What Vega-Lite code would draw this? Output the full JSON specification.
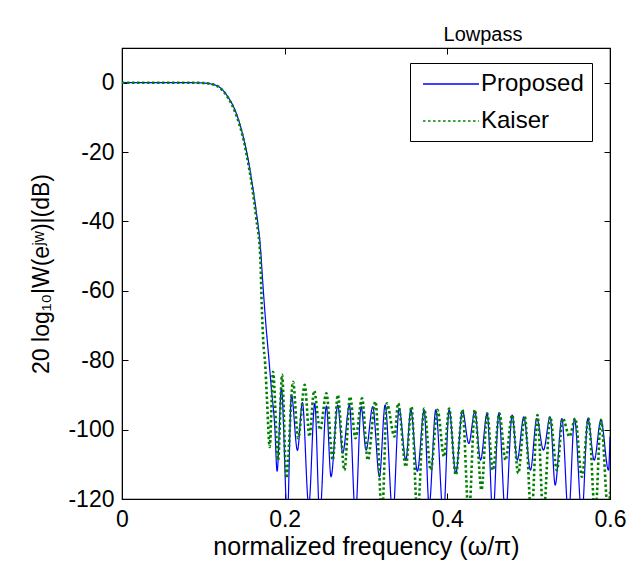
{
  "$schema": "https://vega.github.io/schema/vega-lite/v6.json",
  "width": 488,
  "height": 451,
  "autosize": {"type": "none"},
  "padding": {"left": 122, "top": 48, "right": 28, "bottom": 68},
  "background": "white",
  "title": {"text": "Lowpass", "fontSize": 20, "font": "Liberation Sans", "fontWeight": "normal", "color": "black", "offset": 3, "dx": 117},
  "config": {
    "view": {"stroke": "black", "strokeWidth": 1.2},
    "axis": {"labelFont": "Liberation Sans", "titleFont": "Liberation Sans", "labelFontSize": 23, "titleFontSize": 23, "titleFontWeight": "normal", "labelColor": "black", "titleColor": "black", "domainColor": "black", "tickColor": "black", "grid": false, "tickSize": -6, "labelPadding": 14, "labelFlush": false}
  },
  "datasets": {
    "resp": [
      {"f": 0, "db": 0, "s": "Proposed"}, {"f": 0.02, "db": 0, "s": "Proposed"}, {"f": 0.04, "db": 0, "s": "Proposed"}, {"f": 0.06, "db": 0, "s": "Proposed"}, {"f": 0.08, "db": 0, "s": "Proposed"}, {"f": 0.1, "db": -0.1, "s": "Proposed"},
      {"f": 0.11, "db": -0.4, "s": "Proposed"}, {"f": 0.12, "db": -1.3, "s": "Proposed"}, {"f": 0.13, "db": -4, "s": "Proposed"}, {"f": 0.14, "db": -8.5, "s": "Proposed"}, {"f": 0.145, "db": -12, "s": "Proposed"}, {"f": 0.15, "db": -16.5, "s": "Proposed"},
      {"f": 0.155, "db": -22, "s": "Proposed"}, {"f": 0.16, "db": -29, "s": "Proposed"}, {"f": 0.165, "db": -37, "s": "Proposed"}, {"f": 0.17, "db": -47, "s": "Proposed"}, {"f": 0.1738, "db": -60, "s": "Proposed"}, {"f": 0.177, "db": -70, "s": "Proposed"},
      {"f": 0.18, "db": -78, "s": "Proposed"}, {"f": 0.1836, "db": -88, "s": "Proposed"}, {"f": 0.1878, "db": -99, "s": "Proposed"}, {"f": 0.1907, "db": -112, "s": "Proposed"}, {"f": 0.196, "db": -88, "s": "Proposed"}, {"f": 0.2033, "db": -125, "s": "Proposed"},
      {"f": 0.2083, "db": -90, "s": "Proposed"}, {"f": 0.2157, "db": -106, "s": "Proposed"}, {"f": 0.2218, "db": -92.2, "s": "Proposed"}, {"f": 0.2296, "db": -122, "s": "Proposed"}, {"f": 0.237, "db": -92.4, "s": "Proposed"}, {"f": 0.2431, "db": -125, "s": "Proposed"},
      {"f": 0.2513, "db": -93.2, "s": "Proposed"}, {"f": 0.257, "db": -113.6, "s": "Proposed"}, {"f": 0.2653, "db": -92.9, "s": "Proposed"}, {"f": 0.2714, "db": -106.8, "s": "Proposed"}, {"f": 0.2796, "db": -92.9, "s": "Proposed"}, {"f": 0.287, "db": -125, "s": "Proposed"},
      {"f": 0.294, "db": -93.4, "s": "Proposed"}, {"f": 0.3001, "db": -105.9, "s": "Proposed"}, {"f": 0.3083, "db": -93.4, "s": "Proposed"}, {"f": 0.3165, "db": -113.6, "s": "Proposed"}, {"f": 0.3235, "db": -92.9, "s": "Proposed"}, {"f": 0.333, "db": -125, "s": "Proposed"},
      {"f": 0.3407, "db": -93.9, "s": "Proposed"}, {"f": 0.349, "db": -108.8, "s": "Proposed"}, {"f": 0.3551, "db": -94.3, "s": "Proposed"}, {"f": 0.3632, "db": -112, "s": "Proposed"}, {"f": 0.3715, "db": -94.3, "s": "Proposed"}, {"f": 0.3776, "db": -122, "s": "Proposed"},
      {"f": 0.3858, "db": -94.3, "s": "Proposed"}, {"f": 0.3952, "db": -125, "s": "Proposed"}, {"f": 0.4022, "db": -94.3, "s": "Proposed"}, {"f": 0.4104, "db": -112.6, "s": "Proposed"}, {"f": 0.4186, "db": -94.5, "s": "Proposed"}, {"f": 0.4264, "db": -104, "s": "Proposed"},
      {"f": 0.4338, "db": -94.8, "s": "Proposed"}, {"f": 0.4408, "db": -108.8, "s": "Proposed"}, {"f": 0.449, "db": -95.3, "s": "Proposed"}, {"f": 0.456, "db": -125, "s": "Proposed"}, {"f": 0.4633, "db": -95.3, "s": "Proposed"}, {"f": 0.4715, "db": -125, "s": "Proposed"},
      {"f": 0.4797, "db": -95.8, "s": "Proposed"}, {"f": 0.4859, "db": -108.8, "s": "Proposed"}, {"f": 0.4941, "db": -96.3, "s": "Proposed"}, {"f": 0.5022, "db": -111.7, "s": "Proposed"}, {"f": 0.51, "db": -96.8, "s": "Proposed"}, {"f": 0.5182, "db": -105.9, "s": "Proposed"},
      {"f": 0.5264, "db": -96.3, "s": "Proposed"}, {"f": 0.5326, "db": -116, "s": "Proposed"}, {"f": 0.5408, "db": -96.8, "s": "Proposed"}, {"f": 0.549, "db": -125, "s": "Proposed"}, {"f": 0.5564, "db": -96.8, "s": "Proposed"}, {"f": 0.5654, "db": -125, "s": "Proposed"},
      {"f": 0.5728, "db": -96.8, "s": "Proposed"}, {"f": 0.5806, "db": -108.8, "s": "Proposed"}, {"f": 0.5888, "db": -97.2, "s": "Proposed"}, {"f": 0.5982, "db": -111.7, "s": "Proposed"}, {"f": 0.6, "db": -102, "s": "Proposed"},

      {"f": 0, "db": 0, "s": "Kaiser"}, {"f": 0.02, "db": 0, "s": "Kaiser"}, {"f": 0.04, "db": 0, "s": "Kaiser"}, {"f": 0.06, "db": 0, "s": "Kaiser"}, {"f": 0.08, "db": 0, "s": "Kaiser"}, {"f": 0.1, "db": -0.1, "s": "Kaiser"},
      {"f": 0.11, "db": -0.4, "s": "Kaiser"}, {"f": 0.12, "db": -1.4, "s": "Kaiser"}, {"f": 0.13, "db": -4.2, "s": "Kaiser"}, {"f": 0.14, "db": -9, "s": "Kaiser"}, {"f": 0.145, "db": -12.5, "s": "Kaiser"}, {"f": 0.15, "db": -17, "s": "Kaiser"},
      {"f": 0.155, "db": -23, "s": "Kaiser"}, {"f": 0.16, "db": -30, "s": "Kaiser"}, {"f": 0.165, "db": -39, "s": "Kaiser"}, {"f": 0.17, "db": -50, "s": "Kaiser"}, {"f": 0.1718, "db": -64, "s": "Kaiser"}, {"f": 0.1738, "db": -75, "s": "Kaiser"},
      {"f": 0.176, "db": -81, "s": "Kaiser"}, {"f": 0.178, "db": -90, "s": "Kaiser"}, {"f": 0.1816, "db": -105, "s": "Kaiser"}, {"f": 0.1857, "db": -83.3, "s": "Kaiser"}, {"f": 0.1919, "db": -108.8, "s": "Kaiser"}, {"f": 0.1968, "db": -84.2, "s": "Kaiser"},
      {"f": 0.2021, "db": -114, "s": "Kaiser"}, {"f": 0.2103, "db": -86.2, "s": "Kaiser"}, {"f": 0.2165, "db": -102.5, "s": "Kaiser"}, {"f": 0.2247, "db": -87.1, "s": "Kaiser"}, {"f": 0.2305, "db": -102, "s": "Kaiser"}, {"f": 0.2362, "db": -88.8, "s": "Kaiser"},
      {"f": 0.2435, "db": -100, "s": "Kaiser"}, {"f": 0.2513, "db": -89.5, "s": "Kaiser"}, {"f": 0.2591, "db": -108.8, "s": "Kaiser"}, {"f": 0.2653, "db": -90, "s": "Kaiser"}, {"f": 0.2735, "db": -111.7, "s": "Kaiser"}, {"f": 0.2804, "db": -90.5, "s": "Kaiser"},
      {"f": 0.287, "db": -102.5, "s": "Kaiser"}, {"f": 0.2952, "db": -91, "s": "Kaiser"}, {"f": 0.3022, "db": -108.8, "s": "Kaiser"}, {"f": 0.3116, "db": -91.9, "s": "Kaiser"}, {"f": 0.3198, "db": -125, "s": "Kaiser"}, {"f": 0.3256, "db": -92.4, "s": "Kaiser"},
      {"f": 0.335, "db": -102, "s": "Kaiser"}, {"f": 0.3395, "db": -92.4, "s": "Kaiser"}, {"f": 0.349, "db": -110.7, "s": "Kaiser"}, {"f": 0.3559, "db": -93.4, "s": "Kaiser"}, {"f": 0.3632, "db": -125, "s": "Kaiser"}, {"f": 0.3715, "db": -93.9, "s": "Kaiser"},
      {"f": 0.3797, "db": -111.7, "s": "Kaiser"}, {"f": 0.3879, "db": -94.3, "s": "Kaiser"}, {"f": 0.396, "db": -107.8, "s": "Kaiser"}, {"f": 0.4022, "db": -93.9, "s": "Kaiser"}, {"f": 0.4104, "db": -113.1, "s": "Kaiser"}, {"f": 0.4186, "db": -94.3, "s": "Kaiser"},
      {"f": 0.4264, "db": -125, "s": "Kaiser"}, {"f": 0.4338, "db": -94.3, "s": "Kaiser"}, {"f": 0.442, "db": -117.4, "s": "Kaiser"}, {"f": 0.449, "db": -95.3, "s": "Kaiser"}, {"f": 0.456, "db": -111.7, "s": "Kaiser"}, {"f": 0.464, "db": -95.3, "s": "Kaiser"},
      {"f": 0.4715, "db": -108.8, "s": "Kaiser"}, {"f": 0.4797, "db": -95.8, "s": "Kaiser"}, {"f": 0.4871, "db": -112.6, "s": "Kaiser"}, {"f": 0.4953, "db": -96.3, "s": "Kaiser"}, {"f": 0.5034, "db": -125, "s": "Kaiser"}, {"f": 0.5108, "db": -95.8, "s": "Kaiser"},
      {"f": 0.5182, "db": -125, "s": "Kaiser"}, {"f": 0.5264, "db": -96.3, "s": "Kaiser"}, {"f": 0.5347, "db": -111.7, "s": "Kaiser"}, {"f": 0.542, "db": -96.8, "s": "Kaiser"}, {"f": 0.5502, "db": -102, "s": "Kaiser"}, {"f": 0.5572, "db": -96.8, "s": "Kaiser"},
      {"f": 0.5654, "db": -113.6, "s": "Kaiser"}, {"f": 0.5736, "db": -96.8, "s": "Kaiser"}, {"f": 0.5818, "db": -125, "s": "Kaiser"}, {"f": 0.5888, "db": -97.2, "s": "Kaiser"}, {"f": 0.5982, "db": -125, "s": "Kaiser"}, {"f": 0.6, "db": -118, "s": "Kaiser"}
    ]
  },
  "data": {"name": "resp"},
  "layer": [
    {
      "transform": [{"filter": "datum.s === 'Proposed'"}],
      "mark": {"type": "line", "clip": true, "strokeWidth": 1.2, "interpolate": "monotone"},
      "encoding": {
        "x": {"field": "f", "type": "quantitative", "scale": {"domain": [0, 0.6], "nice": false}, "axis": {"values": [0, 0.2, 0.4, 0.6], "title": "normalized frequency (ω/π)", "titleFontSize": 25, "labelExpr": "'' + datum.value", "labelPadding": 15, "titlePadding": 3}},
        "y": {"field": "db", "type": "quantitative", "scale": {"domain": [-120, 10], "nice": false}, "axis": {"values": [-120, -100, -80, -60, -40, -20, 0], "title": "20 log₁₀|W(eʲʷ)|(dB)", "titleFontSize": 23, "labelExpr": "'' + datum.value", "titlePadding": 14}},
        "color": {"field": "s", "type": "nominal", "scale": {"domain": ["Proposed", "Kaiser"], "range": ["#0000ff", "#008000"]},
          "legend": {"title": null, "orient": "none", "legendX": 288, "legendY": 15, "strokeColor": "black", "fillColor": "white", "padding": 8, "labelFont": "Liberation Sans", "labelFontSize": 24, "labelColor": "black", "symbolType": "M-2.33,0H2.33", "symbolSize": 576, "symbolOffset": 20, "rowPadding": 12, "labelOffset": 17, "cornerRadius": 0, "symbolStrokeWidth": 1.5}},
        "strokeDash": {"field": "s", "type": "nominal", "scale": {"domain": ["Proposed", "Kaiser"], "range": [[1, 0], [2.5, 2.5]]}, "legend": null}
      }
    },
    {
      "transform": [{"filter": "datum.s === 'Kaiser'"}],
      "mark": {"type": "line", "clip": true, "strokeWidth": 2.6, "interpolate": "monotone"},
      "encoding": {
        "x": {"field": "f", "type": "quantitative", "axis": null},
        "y": {"field": "db", "type": "quantitative", "axis": null},
        "color": {"field": "s", "type": "nominal"},
        "strokeDash": {"field": "s", "type": "nominal", "legend": null}
      }
    },
    {
      "mark": {"type": "line", "strokeOpacity": 0, "clip": true},
      "encoding": {
        "detail": {"field": "s"},
        "x": {"field": "f", "type": "quantitative", "axis": {"orient": "top", "values": [0, 0.2, 0.4, 0.6], "labels": false, "title": null}},
        "y": {"field": "db", "type": "quantitative", "axis": {"orient": "right", "values": [-120, -100, -80, -60, -40, -20, 0], "labels": false, "title": null}}
      }
    }
  ],
  "resolve": {"axis": {"x": "independent", "y": "independent"}}
}
